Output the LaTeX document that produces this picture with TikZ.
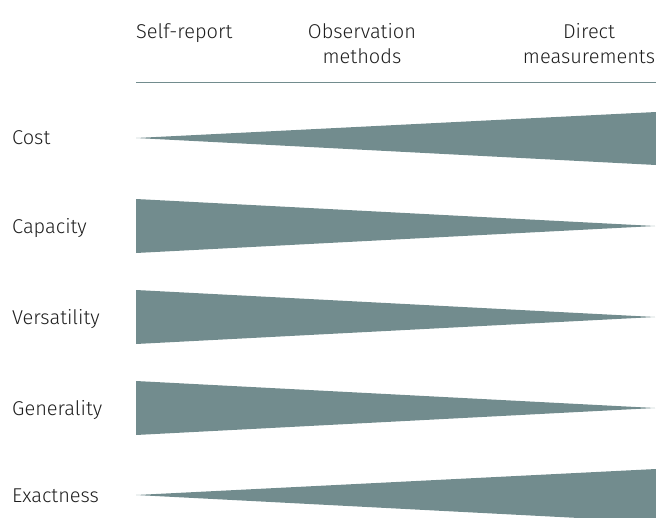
\documentclass[tikz,border=0pt]{standalone}
\usepackage{fontspec}
\setmainfont{Fira Sans Light}
\usepackage{tikz}
\usetikzlibrary{positioning}
\definecolor{wedgegrey}{HTML}{728C8E}
\definecolor{textgrey}{HTML}{1E1E1E}

\begin{document}
\begin{tikzpicture}[
	x=1pt,y=-1pt,
	font=\fontsize{20}{25}\selectfont,
	head/.style={
	  text=textgrey,
	  align=center,
	  inner sep=0pt
	  },
	rowlabel/.style={
	  text=textgrey,
	  anchor=base west,
	  inner sep=0pt
	  },
	wedge/.style={fill=wedgegrey}
	]
		\clip (0,0) rectangle (656,517);

		% column heads
		\node[head,anchor=base west] (self) at (136,38) {Self-report};
		\node[head,anchor=base] (obs) at (362,63) {Observation\\methods};
		\node[head,anchor=base] (direct) at (589,63) {Direct\\measurements};
		\coordinate (rule_l) at (136,82);
		\coordinate (rule_r) at (656,82);
		\draw[wedgegrey,line width=1pt] (rule_l) -- (rule_r);

		% row labels
		\node[rowlabel] (cost) at (12,144) {Cost};
		\node[rowlabel] (capacity) at (12,233) {Capacity};
		\node[rowlabel] (versatility) at (12,324) {Versatility};
		\node[rowlabel] (generality) at (12,415) {Generality};
		\node[rowlabel] (exactness) at (12,502) {Exactness};

		% wedges
		\fill[wedge] (136,138) -- (656,112) -- (656,165) -- cycle;
		\fill[wedge] (136,199) -- (655,226) -- (136,253) -- cycle;
		\fill[wedge] (136,290) -- (655,317) -- (136,344) -- cycle;
		\fill[wedge] (136,381) -- (655,408) -- (136,435) -- cycle;
		\fill[wedge] (136,495) -- (656,469) -- (656,522) -- cycle;
	\end{tikzpicture}
\end{document}
